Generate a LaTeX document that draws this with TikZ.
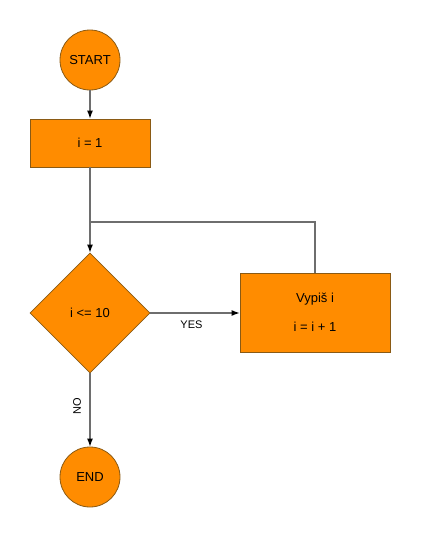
\documentclass[tikz,border=0pt]{standalone}
\usepackage{fontspec}
\setmainfont{Liberation Sans}
\usetikzlibrary{shapes.geometric,arrows.meta}
\definecolor{fillor}{HTML}{FF8C00}
\definecolor{edgeor}{HTML}{8A5A14}
\definecolor{linegr}{HTML}{6E6E6E}
\begin{document}
\begin{tikzpicture}[x=1pt,y=-1pt,
  term/.style={circle,draw=edgeor,fill=fillor,line width=0.8pt,minimum size=60pt,inner sep=0pt,font=\fontsize{13}{15}\selectfont},
  procbox/.style={rectangle,draw=edgeor,fill=fillor,line width=0.8pt,inner sep=0pt,font=\fontsize{13}{15}\selectfont},
  decis/.style={diamond,draw=edgeor,fill=fillor,line width=0.8pt,inner sep=0pt,minimum width=120pt,minimum height=120pt,font=\fontsize{13}{15}\selectfont},
  conn/.style={draw=linegr,line width=1.2pt},
  arr/.style={conn,-{Latex[length=8pt,width=6pt,black]}},
  lbl/.style={font=\fontsize{11}{13}\selectfont,inner sep=0pt}]
\useasboundingbox (0,0) rectangle (421,538);
\node[term] (start) at (90,60) {START};
\node[procbox,minimum width=120pt,minimum height=48pt] (init) at (90,143) {i = 1};
\node[decis] (cond) at (90,313) {i <= 10};
\node[procbox,minimum width=150pt,minimum height=79pt] (body) at (315,313) {};
\node[font=\fontsize{13}{15}\selectfont,inner sep=0pt] (t1) at (315,299) {Vypiš i};
\node[font=\fontsize{13}{15}\selectfont,inner sep=0pt] (t2) at (315,327) {i = i + 1};
\node[term] (end) at (90,477) {END};
\coordinate (junc) at (90,222);
\coordinate (loopc) at (315,222);
\draw[arr] (start) -- (init);
\draw[conn] (init) -- (junc);
\draw[arr] (junc) -- (cond.north);
\draw[conn] (body.north) -- (loopc) -- (junc);
\draw[arr] (cond.east) -- (body.west) node[lbl,pos=0.46,yshift=-12pt] (yes) {YES};
\draw[arr] (cond.south) -- (end) node[lbl,pos=0.45,xshift=-13pt,rotate=90] (no) {NO};
\end{tikzpicture}
\end{document}
